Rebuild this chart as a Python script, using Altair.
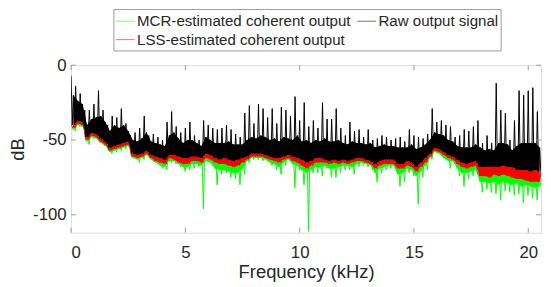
import altair as alt
import pandas as pd

# Frequency bins (kHz), one every 0.2 kHz
freq_bins = [round(0.2 * i, 1) for i in range(103)]

# Raw output signal (black): spike tops, body top, body bottom (dB)
raw_hi = [-7, -14, -19, -30, -30, -26, -17, -30, -40, -34,
          -35, -29, -39, -47, -45, -42, -34, -47, -46, -48,
          -50, -38, -31, -41, -45, -42, -38, -47, -50, -37,
          -40, -42, -43, -42, -40, -43, -46, -48, -32, -27,
          -39, -26, -29, -35, -29, -39, -28, -30, -34, -21,
          -37, -25, -41, -37, -42, -25, -36, -36, -29, -42,
          -47, -38, -44, -43, -48, -43, -50, -49, -47, -48,
          -50, -49, -48, -51, -43, -47, -48, -49, -46, -29,
          -38, -37, -40, -41, -48, -47, -43, -44, -41, -37,
          -52, -47, -52, -12, -30, -32, -50, -37, -17, -20,
          -17, -15, -31]
raw_mid = [-20, -24, -26, -40, -36, -35, -34, -38, -44, -40,
           -42, -40, -44, -50, -51, -49, -45, -51, -52, -53,
           -54, -47, -45, -49, -52, -50, -50, -52, -54, -48,
           -50, -52, -52, -52, -51, -53, -53, -53, -50, -48,
           -49, -47, -48, -50, -49, -51, -48, -49, -50, -47,
           -51, -50, -52, -50, -51, -49, -51, -51, -50, -52,
           -53, -51, -52, -52, -53, -52, -55, -54, -53, -54,
           -54, -55, -55, -55, -53, -56, -55, -53, -50, -45,
           -46, -47, -50, -51, -54, -55, -55, -55, -53, -55,
           -57, -56, -57, -52, -52, -53, -57, -54, -52, -52,
           -52, -52, -55]
raw_lo = [-40, -37, -38, -48, -45, -46, -49, -51, -55, -54,
          -53, -52, -51, -59, -60, -59, -57, -60, -61, -62,
          -63, -60, -60, -61, -62, -62, -61, -61, -62, -59,
          -60, -62, -63, -62, -63, -64, -63, -62, -61, -59,
          -59, -59, -60, -61, -62, -62, -61, -60, -61, -62,
          -63, -65, -64, -62, -62, -63, -64, -63, -64, -63,
          -64, -63, -62, -62, -63, -64, -66, -64, -63, -63,
          -63, -66, -66, -64, -65, -68, -65, -62, -59, -55,
          -56, -58, -60, -61, -63, -65, -66, -65, -64, -68,
          -68, -68, -68, -68, -67, -68, -68, -70, -70, -70,
          -71, -70, -71]
# LSS-estimated coherent output (red): lower edge (dB)
lss_lo = [-42, -39, -40, -50, -47, -48, -51, -53, -57, -56,
          -55, -54, -53, -61, -62, -61, -59, -62, -64, -65,
          -66, -62, -63, -65, -66, -66, -64, -64, -65, -62,
          -63, -65, -66, -66, -67, -68, -67, -65, -63, -61,
          -61, -61, -62, -63, -64, -65, -63, -62, -64, -65,
          -67, -69, -67, -65, -65, -65, -66, -65, -66, -65,
          -66, -65, -64, -64, -65, -66, -69, -67, -66, -66,
          -66, -69, -69, -67, -68, -71, -68, -65, -61, -57,
          -58, -60, -62, -63, -66, -68, -69, -68, -67, -74,
          -74, -75, -73, -74, -73, -74, -75, -76, -76, -77,
          -78, -78, -78]
# MCR-estimated coherent output (green): dense lower fringe and deepest dips (dB)
mcr_edge = [-43, -40, -41, -51, -48, -49, -52, -54, -58, -57,
            -56, -55, -54, -62, -63, -62, -60, -63, -65, -67,
            -68, -64, -64, -66, -68, -68, -66, -66, -67, -64,
            -65, -69, -70, -70, -71, -72, -72, -69, -64, -62,
            -62, -62, -63, -65, -66, -68, -65, -63, -66, -67,
            -70, -72, -70, -68, -68, -67, -69, -69, -68, -67,
            -67, -68, -66, -65, -66, -67, -72, -69, -68, -67,
            -67, -73, -72, -69, -70, -74, -71, -67, -62, -58,
            -59, -62, -64, -64, -69, -72, -72, -71, -70, -78,
            -78, -79, -78, -80, -78, -79, -80, -79, -81, -80,
            -81, -82, -81]
mcr_lo = [-44, -41, -42, -53, -49, -50, -52, -54, -59, -58,
          -57, -56, -55, -62, -65, -63, -61, -64, -66, -69,
          -70, -65, -66, -68, -71, -70, -69, -68, -96, -65,
          -67, -80, -73, -72, -75, -76, -80, -73, -65, -63,
          -63, -64, -64, -67, -70, -73, -67, -64, -82, -70,
          -80, -111, -72, -72, -74, -69, -75, -75, -72, -70,
          -70, -73, -68, -67, -68, -70, -78, -72, -70, -69,
          -69, -81, -78, -72, -74, -93, -75, -70, -63, -58,
          -60, -63, -69, -66, -74, -81, -76, -74, -73, -85,
          -83, -85, -86, -90, -84, -85, -87, -86, -92, -87,
          -89, -90, -85]

MCR = "MCR-estimated coherent output"
RAW = "Raw output signal"
LSS = "LSS-estimated coherent output"
SERIES = [MCR, LSS, RAW]
COLORS = ["#00ff00", "#ff0000", "#000000"]

raw_rows, lss_rows, mcr_rows = [], [], []
band_rows = []
for i, k in enumerate(freq_bins):
    raw_rows += [(k, raw_hi[i]), (k + 0.05, raw_lo[i]),
                 (k + 0.10, raw_mid[i]), (k + 0.15, raw_lo[i])]
    lss_rows += [(k + 0.02, raw_lo[i]), (k + 0.07, lss_lo[i]),
                 (k + 0.12, raw_lo[i]), (k + 0.17, lss_lo[i])]
    mcr_rows += [(k + 0.04, lss_lo[i]), (k + 0.09, mcr_edge[i]),
                 (k + 0.14, lss_lo[i]), (k + 0.19, mcr_lo[i])]
    band_rows.append((k + 0.1, raw_mid[i], raw_lo[i], lss_lo[i], mcr_edge[i]))

def frame(rows, name):
    df = pd.DataFrame(rows, columns=["f", "db"])
    df["series"] = name
    return df

raw_df = frame(raw_rows, RAW)
lss_df = frame(lss_rows, LSS)
mcr_df = frame(mcr_rows, MCR)
band_df = pd.DataFrame(band_rows, columns=["f", "mid", "lo", "lss", "mcr"])

x_ticks = [0, 5, 10, 15, 20]
y_ticks = [-100, -50, 0]

W, H = 477, 170
FONT = "Liberation Sans"
TXT = "#262626"
BOX = "#9a9a9a"

xscale = alt.Scale(domain=[0, 20.56], nice=False, zero=False)
yscale = alt.Scale(domain=[-112, 0], nice=False, zero=False)

xaxis = alt.Axis(values=x_ticks, title="Frequency (kHz)", ticks=False, domain=False,
                 grid=False, labelFontSize=17, labelPadding=12, labelColor=TXT,
                 titleFontSize=18.7, titleFontWeight="normal", titleColor=TXT,
                 titlePadding=2, labelFont=FONT, titleFont=FONT)
yaxis = alt.Axis(values=y_ticks, title="dB", ticks=False, domain=False, grid=False,
                 labelFontSize=17, labelPadding=5, labelColor=TXT,
                 labelExpr="'' + datum.value",
                 titleFontSize=18.7, titleFontWeight="normal", titleColor=TXT,
                 titlePadding=5, labelFont=FONT, titleFont=FONT)

color = alt.Color("series:N",
                  scale=alt.Scale(domain=SERIES, range=COLORS),
                  legend=alt.Legend(title=None, orient="none", legendX=43, legendY=-57,
                                    values=SERIES,
                                    columns=2, symbolType="stroke", symbolSize=361,
                                    symbolStrokeWidth=1, symbolOpacity=0.55,
                                    labelFontSize=15.3,
                                    labelFont=FONT, labelColor=TXT, labelOffset=2,
                                    columnPadding=4, rowPadding=0, padding=2,
                                    strokeColor=BOX, fillColor="white",
                                    labelLimit=400))

def line(df):
    return alt.Chart(df).mark_line(strokeWidth=1, clip=True).encode(
        x=alt.X("f:Q", scale=xscale, axis=xaxis),
        y=alt.Y("db:Q", scale=yscale, axis=yaxis),
        color=color,
    )

def band(top, bottom, col):
    return alt.Chart(band_df).mark_area(color=col, clip=True).encode(
        x=alt.X("f:Q", scale=xscale, axis=xaxis),
        y=alt.Y(top + ":Q", scale=yscale, axis=yaxis),
        y2=alt.Y2(bottom + ":Q"),
    )

xt = pd.DataFrame({"f": x_ticks})
yt = pd.DataFrame({"db": y_ticks})
tick_bottom = alt.Chart(xt).mark_rule(color=BOX, strokeWidth=1).encode(
    x=alt.X("f:Q", scale=xscale), y=alt.value(H - 5), y2=alt.value(H))
tick_top = alt.Chart(xt).mark_rule(color=BOX, strokeWidth=1).encode(
    x=alt.X("f:Q", scale=xscale), y=alt.value(0), y2=alt.value(5))
tick_left = alt.Chart(yt).mark_rule(color=BOX, strokeWidth=1).encode(
    y=alt.Y("db:Q", scale=yscale), x=alt.value(0), x2=alt.value(5))
tick_right = alt.Chart(yt).mark_rule(color=BOX, strokeWidth=1).encode(
    y=alt.Y("db:Q", scale=yscale), x=alt.value(W - 5), x2=alt.value(W))

chart = alt.layer(
    band("lss", "mcr", "#00ff00"), line(mcr_df),
    band("lo", "lss", "#ff0000"), line(lss_df),
    band("mid", "lo", "#000000"), line(raw_df),
    tick_bottom, tick_top, tick_left, tick_right,
).properties(
    width=W, height=H,
    autosize=alt.AutoSizeParams(type="none"),
    padding={"left": 64, "top": 56, "right": 2, "bottom": 52},
).configure_view(
    stroke=BOX, strokeWidth=1
).configure(
    font=FONT, background="white"
)

chart.save("out.html", embed_options={"renderer": "svg", "actions": False})
